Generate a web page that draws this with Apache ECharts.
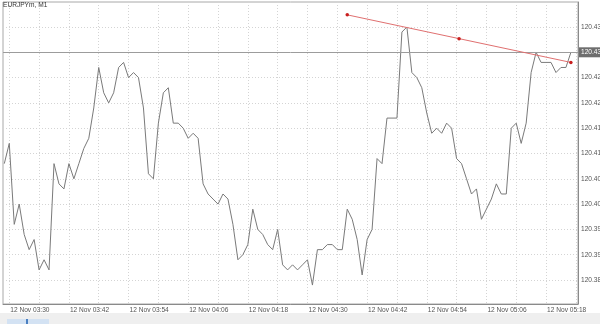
<!DOCTYPE html>
<html>
<head>
<meta charset="utf-8">
<script src="https://cdn.jsdelivr.net/npm/echarts/dist/echarts.min.js"></script>
<style>
html,body{margin:0;padding:0;background:#ffffff;}
#chart{width:600px;height:324px;}
</style>
</head>
<body>
<div id="chart"></div>
<script>
// ---- data ----
const symbolName = 'EURJPYm, M1';
const dateLabel = '12 Nov';
const firstBarTime = '03:29';   // one close per minute from here on
const closePrices = [
  120.408, 120.412, 120.396, 120.400, 120.394, 120.391, 120.393, 120.387, 120.389, 120.387,
  120.408, 120.404, 120.403, 120.408, 120.405, 120.408, 120.411, 120.413, 120.419, 120.427,
  120.422, 120.420, 120.422, 120.427, 120.428, 120.425, 120.426, 120.425, 120.419, 120.406,
  120.405, 120.416, 120.422, 120.423, 120.416, 120.416, 120.415, 120.413, 120.414, 120.413,
  120.404, 120.402, 120.401, 120.400, 120.402, 120.401, 120.396, 120.389, 120.390, 120.392,
  120.399, 120.395, 120.394, 120.392, 120.391, 120.395, 120.388, 120.387, 120.388, 120.387,
  120.388, 120.389, 120.384, 120.391, 120.391, 120.392, 120.392, 120.391, 120.391, 120.399,
  120.397, 120.393, 120.386, 120.393, 120.395, 120.409, 120.408, 120.417, 120.417, 120.417,
  120.434, 120.435, 120.426, 120.425, 120.423, 120.418, 120.414, 120.415, 120.414, 120.416,
  120.415, 120.409, 120.408, 120.405, 120.402, 120.403, 120.397, 120.399, 120.401, 120.404,
  120.402, 120.402, 120.415, 120.416, 120.412, 120.416, 120.426, 120.430, 120.428, 120.428,
  120.428, 120.426, 120.427, 120.427, 120.430
];
const lastPrice = 120.430;
const xTickTimes = ['03:30','03:42','03:54','04:06','04:18','04:30','04:42','04:54','05:06','05:18'];
const xGridTimes = ['03:30','03:36','03:42','03:48','03:54','04:00','04:06','04:12','04:18','04:24',
  '04:30','04:36','04:42','04:48','04:54','05:00','05:06','05:12','05:18','05:24'];
const yTickValues = [120.385, 120.390, 120.395, 120.400, 120.405, 120.410, 120.415, 120.420, 120.425, 120.430, 120.435];
const yTickLabels = ['120.385','120.390','120.395','120.400','120.405','120.410','120.415','120.420','120.425','120.430','120.435'];
const trendTimes = ['04:38', '05:00:30', '05:23'];
const trendPrices = [120.4374, 120.4327, 120.4280];

// ---- helpers ----
function toMin(s) { const p = s.split(':').map(Number); return p[0] * 60 + p[1] + (p[2] || 0) / 60; }
function fmtTime(v) {
  const m = Math.round(v);
  const h = Math.floor(m / 60), mm = m % 60;
  return String(h).padStart(2, '0') + ':' + String(mm).padStart(2, '0');
}
const startMin = toMin(firstBarTime);
const lineData = closePrices.map((p, i) => [startMin + i, p]);
const trendData = trendTimes.map((t, i) => [toMin(t), trendPrices[i]]);

const FONT = '"Liberation Sans", Arial, sans-serif';
const FS = 6.6;

const chart = echarts.init(document.getElementById('chart'), null, { renderer: 'canvas' });
chart.setOption({
  animation: false,
  backgroundColor: '#ffffff',
  title: {
    text: symbolName, left: 3, top: 2, padding: 0,
    textStyle: { fontSize: FS, fontWeight: 'normal', color: '#333', fontFamily: FONT }
  },
  grid: {
    left: 3, right: 22, top: 2, bottom: 20,
    outerBoundsMode: 'none', containLabel: false,
    show: true, borderColor: '#a8a8a8', borderWidth: 1, backgroundColor: 'transparent'
  },
  xAxis: {
    type: 'value',
    min: 208.738, max: 324.43,
    axisLine: { show: true, lineStyle: { color: '#8a8a8a', width: 1 } },
    axisTick: { show: false, customValues: xGridTimes.map(toMin) },
    axisLabel: {
      customValues: xTickTimes.map(toMin),
      formatter: v => dateLabel + ' ' + fmtTime(v),
      align: 'left', margin: 3, padding: [0, 0, 0, 1],
      fontSize: FS, color: '#555', fontFamily: FONT,
      showMinLabel: true, showMaxLabel: true, hideOverlap: false
    },
    splitLine: { show: true, lineStyle: { color: '#d4d4d4', width: 1, type: [1, 2] } }
  },
  yAxis: {
    type: 'value', position: 'right',
    min: 120.38026, max: 120.43994,
    axisLine: { show: true, lineStyle: { color: '#8a8a8a', width: 1 } },
    axisTick: { show: false, customValues: yTickValues },
    axisLabel: {
      customValues: yTickValues,
      formatter: v => {
        let best = 0;
        yTickValues.forEach((t, i) => { if (Math.abs(t - v) < Math.abs(yTickValues[best] - v)) best = i; });
        return yTickLabels[best];
      },
      margin: 3, fontSize: FS, color: '#555', fontFamily: FONT, hideOverlap: false
    },
    splitLine: { show: true, lineStyle: { color: '#d4d4d4', width: 1, type: [1, 2] } }
  },
  series: [
    {
      type: 'line',
      data: lineData,
      showSymbol: false,
      symbol: 'none',
      lineStyle: { color: '#7a7a7a', width: 1 },
      z: 3,
      markLine: {
        silent: true,
        symbol: 'none',
        data: [{ yAxis: lastPrice }],
        lineStyle: { color: '#9c9c9c', width: 1, type: 'solid' },
        label: {
          show: true, position: 'end', distance: 1,
          formatter: () => lastPrice.toFixed(3),
          backgroundColor: '#6e6e6e', color: '#ffffff',
          padding: [2, 3, 1, 2], fontSize: FS, fontFamily: FONT
        }
      }
    },
    {
      type: 'line',
      data: trendData,
      symbol: 'circle', symbolSize: 3.5,
      showSymbol: true,
      itemStyle: { color: '#c81e1e' },
      lineStyle: { color: '#e07070', width: 1 },
      z: 5
    }
  ],
  graphic: [
    { type: 'rect', shape: { x: 0, y: 313, width: 600, height: 11 }, style: { fill: '#efefef' }, silent: true },
    { type: 'rect', shape: { x: 7, y: 319, width: 42, height: 5 }, style: { fill: '#d3e2f3' }, silent: true },
    { type: 'rect', shape: { x: 26, y: 319, width: 2, height: 5 }, style: { fill: '#4a7fc1' }, silent: true }
  ]
});
</script>
</body>
</html>
